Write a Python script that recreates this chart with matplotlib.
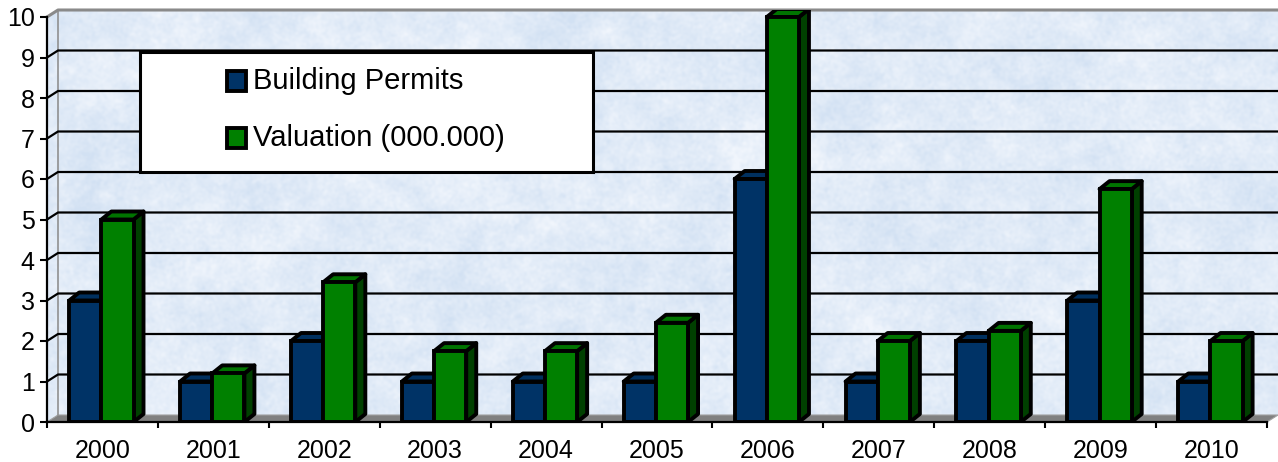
import matplotlib.pyplot as plt
import numpy as np
from matplotlib.patches import Polygon, Rectangle

years = ['2000', '2001', '2002', '2003', '2004', '2005',
         '2006', '2007', '2008', '2009', '2010']
permits = [3, 1, 2, 1, 1, 1, 6, 1, 2, 3, 1]
valuation = [5.0, 1.2, 3.45, 1.75, 1.75, 2.45, 10.0, 2.0, 2.25, 5.75, 2.0]
series_names = ['Building Permits', 'Valuation (000.000)']
yticks = list(range(0, 11))

plt.rcParams['font.family'] = ['Liberation Sans', 'DejaVu Sans']

W, H = 1278, 462
fig = plt.figure(figsize=(W / 100, H / 100), dpi=100)
fig.patch.set_facecolor('white')

n = len(years)
ymax = 10
# front plane: x 47..1267 px, y 422..17 px ; back wall shifted 11 px right, 7 px up
px_x = 1220 / n
px_y = 405 / ymax
DX = 11 / px_x
DY = 7 / px_y
ax = fig.add_axes([47 / W, 40 / H, (W - 47) / W, 412 / H])
ax.set_xlim(0, n + DX)
ax.set_ylim(0, ymax + DY)

# mottled light blue wall texture
rng = np.random.default_rng(7)
th, tw = 412, 1231
fy = np.fft.fftfreq(th)[:, None]
fx = np.fft.fftfreq(tw)[None, :]


def smooth_noise(scale):
    f = np.fft.fft2(rng.normal(size=(th, tw)))
    out = np.real(np.fft.ifft2(f * np.exp(-((fx * scale) ** 2 + (fy * scale) ** 2))))
    return out / out.std()


tex = 0.4 * smooth_noise(90) + 0.4 * smooth_noise(25) + 0.35 * smooth_noise(6)
tex = np.clip(tex / 2.2, -1, 1)
lo = np.array([210, 225, 243]) / 255
hi = np.array([240, 245, 252]) / 255
img = lo + (hi - lo) * ((tex[..., None] + 1) / 2)

wall = Polygon([(0, 0), (DX, DY), (n + DX, DY), (n + DX, ymax + DY),
                (DX, ymax + DY), (0, ymax)], closed=True,
               facecolor='none', edgecolor='none')
ax.add_patch(wall)
im = ax.imshow(img, extent=(0, n + DX, 0, ymax + DY), aspect='auto',
               zorder=0, interpolation='bilinear')
im.set_clip_path(wall)

# floor
ax.add_patch(Polygon([(0, 0), (n, 0), (n + DX, DY), (DX, DY)], closed=True,
                     facecolor='#808080', edgecolor='#a0a0a0', lw=0.8,
                     zorder=1))
# wall edges
ax.plot([DX, DX], [DY, ymax + DY], color='#909090', lw=1.2, zorder=1)
ax.plot([0, DX, n + DX], [ymax, ymax + DY, ymax + DY], color='#8a8a8a',
        lw=2.2, zorder=1, clip_on=False)

# gridlines across side and back walls
for v in yticks[1:-1]:
    ax.plot([0, DX, n + DX], [v, v + DY, v + DY], color='black', lw=1.6,
            zorder=1, solid_capstyle='butt')

# 3D-looking bars
bw = 0.29
bdx = 10 / px_x
bdy = 8 / px_y
x = np.arange(n)
colors = [('#003366', '#00305f', '#001a36'), ('#008000', '#007400', '#004000')]
edge_kw = dict(edgecolor='black', lw=2.8, joinstyle='round')
for s, (vals, (front, top, side)) in enumerate(zip([permits, valuation], colors)):
    left = x + 0.2 + s * bw
    for i in range(n):
        x0 = left[i]
        x1 = x0 + bw
        v = vals[i]
        z = 3 + i * 2 + s
        ax.add_patch(Polygon([(x1, 0), (x1 + bdx, bdy), (x1 + bdx, v + bdy),
                              (x1, v)], closed=True, facecolor=side,
                             zorder=z, **edge_kw))
        ax.add_patch(Polygon([(x0, v), (x0 + bdx, v + bdy),
                              (x1 + bdx, v + bdy), (x1, v)], closed=True,
                             facecolor=top, zorder=z, **edge_kw))
    ax.bar(left, vals, width=bw, align='edge', color=front,
           edgecolor='black', linewidth=2.8, zorder=0)
    for b, i in zip(ax.patches[-n:], range(n)):
        b.set_zorder(3 + i * 2 + s + 0.5)

# axes, ticks and labels
for side_name in ['top', 'right']:
    ax.spines[side_name].set_visible(False)
ax.spines['left'].set_bounds(0, ymax)
ax.spines['bottom'].set_bounds(0, n)
for side_name in ['left', 'bottom']:
    ax.spines[side_name].set_linewidth(1.6)
    ax.spines[side_name].set_zorder(40)

ax.set_yticks(yticks)
ax.set_yticklabels([str(t) for t in yticks], fontsize=18)
ax.tick_params(axis='y', direction='out', length=5, width=1.5, pad=4)
ax.set_xticks(np.arange(n + 1))
ax.set_xticklabels([])
ax.tick_params(axis='x', which='major', direction='out', length=4, width=1.5)
ax.set_xticks(x + 0.5, minor=True)
ax.set_xticklabels(years, minor=True, fontsize=18)
ax.tick_params(axis='x', which='minor', length=0, pad=12)

# legend box
lx0, ly0, lw_, lh_ = 140, 52, 453, 120
fig.patches.append(Rectangle((lx0 / W, 1 - (ly0 + lh_) / H), lw_ / W, lh_ / H,
                             transform=fig.transFigure, facecolor='white',
                             edgecolor='black', lw=2.2, zorder=50))
for k, name in enumerate(series_names):
    cy = [81, 138][k]
    fig.patches.append(Rectangle((227 / W, 1 - (cy + 10) / H), 19 / W, 20 / H,
                                 transform=fig.transFigure,
                                 facecolor=colors[k][0], edgecolor='black',
                                 lw=2.8, zorder=51))
    fig.text(253 / W, 1 - cy / H, name, fontsize=21, va='center',
             ha='left', zorder=52)

fig.savefig('out.png', dpi=100)
